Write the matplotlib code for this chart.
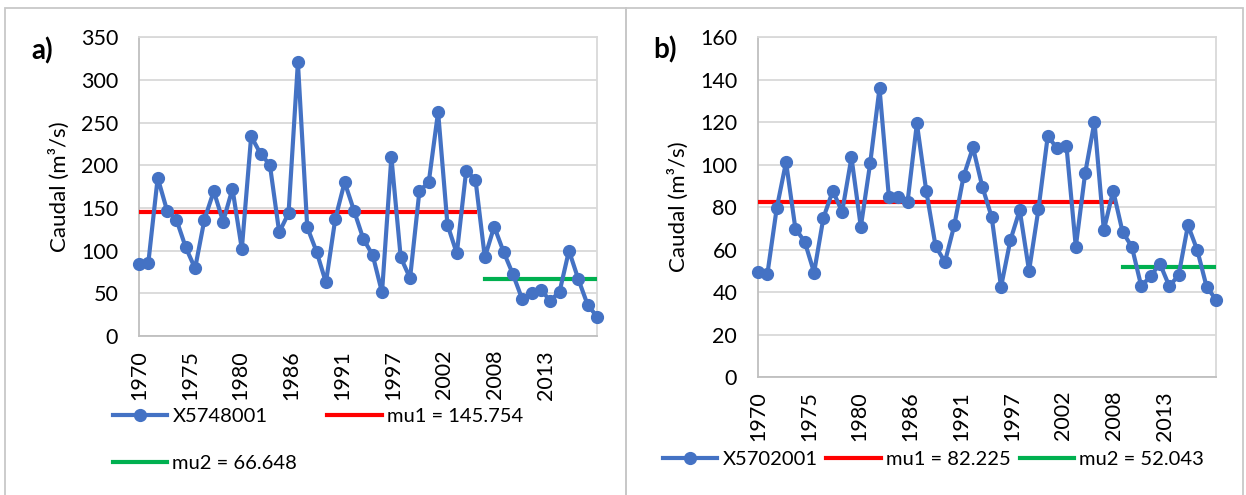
import numpy as np
import matplotlib.pyplot as plt
from matplotlib.patches import Rectangle

plt.rcParams['font.family'] = ['Lato', 'DejaVu Sans']

# annual flow series, 1970-2019
years = np.arange(1970, 2020)

caudal_a = [84.3, 86.0, 185.4, 147.0, 136.4, 103.9, 79.2, 136.4, 169.7, 134.0,
            172.5, 101.9, 234.0, 213.6, 200.7, 121.5, 143.9, 320.7, 127.4, 98.8,
            62.7, 137.2, 180.3, 147.0, 113.7, 94.9, 51.0, 209.7, 92.1, 67.8,
            169.7, 180.3, 262.6, 130.5, 96.8, 193.3, 183.1, 92.1, 128.2, 98.8,
            72.5, 43.1, 49.8, 54.1, 41.2, 52.1, 100.0, 66.6, 36.5, 22.7]

caudal_b = [49.5, 48.4, 79.4, 101.2, 69.9, 63.7, 49.2, 75.0, 87.7, 77.8,
            103.4, 70.7, 100.6, 136.0, 84.9, 84.9, 82.5, 119.4, 87.7, 61.6,
            54.2, 71.5, 94.6, 108.1, 89.6, 75.4, 42.4, 64.4, 78.6, 50.0,
            78.9, 113.5, 107.7, 108.8, 61.3, 95.9, 120.2, 69.2, 87.7, 68.4,
            61.3, 42.8, 47.5, 53.4, 42.8, 47.9, 71.5, 59.7, 42.4, 36.5]

# change point: last year of the first segment
split_a = 2006
split_b = 2008
mu1_a, mu2_a = 145.754, 66.648
mu1_b, mu2_b = 82.225, 52.043

station_a = 'X5748001'
station_b = 'X5702001'

tick_labels = ['1970', '1975', '1980', '1986', '1991', '1997', '2002', '2008', '2013']

BLUE = '#4472C4'
RED = '#FF0000'
GREEN = '#00B050'
GRID = '#D9D9D9'
FS = 15.5
LFS = 14.5

fig = plt.figure(figsize=(12.46, 4.95), dpi=100)

# outer chart frames
fig.patches.append(Rectangle((5 / 1246, -0.01), 620.5 / 1246, 1 - 8 / 495 + 0.01,
                             transform=fig.transFigure, fill=False,
                             edgecolor='#C8C8C8', lw=1.3))
fig.patches.append(Rectangle((625.5 / 1246, -0.01), 617.5 / 1246, 1 - 8 / 495 + 0.01,
                             transform=fig.transFigure, fill=False,
                             edgecolor='#C8C8C8', lw=1.3))


def draw_panel(ax, values, split, mu1, mu2, ymax, ystep):
    yrs = np.array(years)
    vals = np.array(values)
    first = yrs <= split
    second = yrs > split
    l1, = ax.plot(yrs, vals, '-o', color=BLUE, lw=3, ms=8.5, clip_on=False, zorder=4)
    l2, = ax.plot(yrs[first], np.full(first.sum(), mu1), color=RED, lw=3, zorder=3)
    l3, = ax.plot(yrs[second], np.full(second.sum(), mu2), color=GREEN, lw=3, zorder=3)

    ax.set_xlim(years[0], years[-1])
    ax.set_ylim(0, ymax)
    ax.set_yticks(np.arange(0, ymax + 1, ystep))
    ax.set_xticks(np.linspace(years[0], years[-1], 10)[:-1])
    ax.set_xticklabels(tick_labels, rotation=90)
    ax.grid(axis='y', color=GRID, lw=1.3)
    ax.set_axisbelow(True)
    for s in ax.spines.values():
        s.set_color(GRID)
        s.set_linewidth(1.3)
    ax.spines['left'].set_color('#BFBFBF')
    ax.spines['bottom'].set_color('#BFBFBF')
    ax.tick_params(axis='y', length=0, pad=15, labelsize=FS)
    ax.tick_params(axis='x', length=0, pad=10, labelsize=FS)
    ax.set_ylabel('Caudal (m³/s)', fontsize=16)
    ax.yaxis.set_label_coords(-0.15, 0.5)
    return l1, l2, l3


ax_a = fig.add_axes([139 / 1246, 1 - 336 / 495, 458 / 1246, 298.7 / 495])
h_a = draw_panel(ax_a, caudal_a, split_a, mu1_a, mu2_a, 350, 50)
fig.legend([h_a[0], h_a[2], h_a[1]],
           [station_a, 'mu2 = %.3f' % mu2_a, 'mu1 = %.3f' % mu1_a],
           ncol=2, loc='upper left', bbox_to_anchor=(113 / 1246, 1 - 408 / 495),
           frameon=False, fontsize=LFS, handlelength=2.7, handletextpad=0.25,
           columnspacing=1.5, labelspacing=1.5, borderpad=0, borderaxespad=0)

ax_b = fig.add_axes([758 / 1246, 1 - 377 / 495, 458 / 1246, 339.7 / 495])
h_b = draw_panel(ax_b, caudal_b, split_b, mu1_b, mu2_b, 160, 20)
fig.legend(list(h_b),
           [station_b, 'mu1 = %.3f' % mu1_b, 'mu2 = %.3f' % mu2_b],
           ncol=3, loc='upper left', bbox_to_anchor=(663 / 1246, 1 - 451 / 495),
           frameon=False, fontsize=LFS, handlelength=2.7, handletextpad=0.25,
           columnspacing=0.45, borderpad=0, borderaxespad=0)

fig.text(31 / 1246, 1 - 51 / 495, 'a)', fontsize=20, fontweight='bold', va='center')
fig.text(653 / 1246, 1 - 50 / 495, 'b)', fontsize=20, fontweight='bold', va='center')

fig.savefig('out.png', dpi=100)
